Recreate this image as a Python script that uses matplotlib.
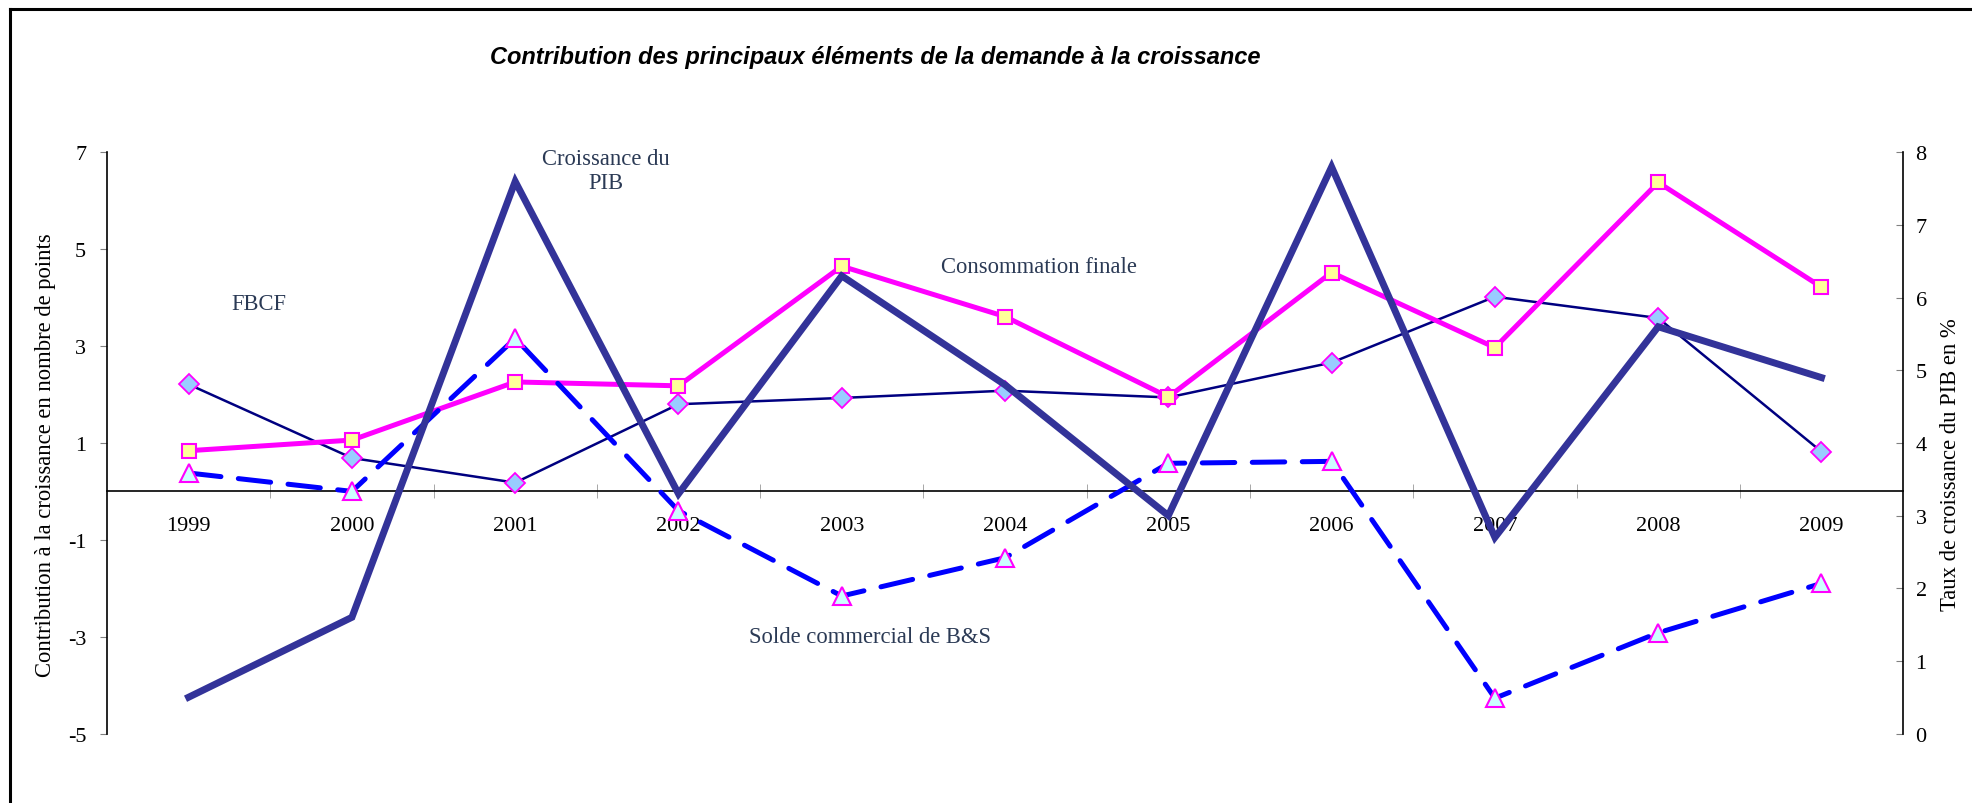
import matplotlib
matplotlib.use('Agg')
import matplotlib.pyplot as plt
from matplotlib.lines import Line2D

# data
years = ['1999', '2000', '2001', '2002', '2003', '2004', '2005', '2006', '2007', '2008', '2009']
consommation = [0.84, 1.06, 2.26, 2.18, 4.65, 3.61, 1.95, 4.52, 2.97, 6.38, 4.22]
fbcf = [2.21, 0.69, 0.18, 1.80, 1.93, 2.08, 1.94, 2.66, 4.02, 3.58, 0.82]
solde = [0.38, 0.0, 3.16, -0.40, -2.16, -1.37, 0.58, 0.62, -4.27, -2.92, -1.90]
pib = [0.5, 1.6, 7.6, 3.3, 6.3, 4.8, 3.0, 7.8, 2.7, 5.6, 4.9]

left_ticks = [-5, -3, -1, 1, 3, 5, 7]
right_ticks = [0, 1, 2, 3, 4, 5, 6, 7, 8]

plt.rcParams['font.family'] = ['Liberation Serif', 'DejaVu Serif']
plt.rcParams['axes.unicode_minus'] = False
fs = 16.3
tick_fs = 16
txt_color = '#2B3A55'

fig = plt.figure(figsize=(19.72, 8.04), dpi=100)
ax = fig.add_axes([0.05426, 0.0864, 0.9108, 0.7228])
x = list(range(len(years)))

# lines on the left axis
ax.plot(x, fbcf, color='#000080', lw=1.8, marker='D', ms=10.5,
        mfc='#99CCFF', mec='#FF00FF', mew=1.3, zorder=3)
ax.plot(x, consommation, color='#FF00FF', lw=3.6, marker='s', ms=10,
        mfc='#FFFF99', mec='#FF00FF', mew=1.5, zorder=3)
ax.plot(x, solde, color='#0000FF', lw=3.6, dashes=(6.5, 3.5),
        dash_capstyle='round', marker='^', ms=13.5,
        mfc='#CCFFFF', mec='#FF00FF', mew=1.5, zorder=3)

ax.set_xlim(-0.5, len(years) - 0.5)
ax.set_ylim(-5, 7)
ax.set_yticks(left_ticks)
ax.tick_params(axis='y', direction='out', length=5, color='#808080',
               labelsize=tick_fs, pad=10)

# category axis sits on the zero line
ax.spines['bottom'].set_position(('data', 0))
ax.spines['top'].set_visible(False)
ax.spines['right'].set_visible(False)
for s in ['left', 'bottom']:
    ax.spines[s].set_linewidth(1.2)
ax.set_xticks(x)
ax.set_xticklabels(years)
ax.set_xticks([i + 0.5 for i in x[:-1]], minor=True)
ax.tick_params(axis='x', which='major', length=0, labelsize=tick_fs, pad=18)
ax.tick_params(axis='x', which='minor', direction='inout', length=9.5,
               color='#999999')

ax.set_ylabel('Contribution à la croissance en nombre de points',
              fontsize=fs, va='center')
ax.yaxis.set_label_coords(-0.0345, 0.481)

# GDP growth on the right axis
ax2 = ax.twinx()
ax2.plot(x, pib, color='#333399', lw=5, solid_joinstyle='miter', zorder=4)
ax2.set_ylim(0, 8)
ax2.set_yticks(right_ticks)
ax2.tick_params(axis='y', direction='in', length=5, color='#808080',
                labelsize=tick_fs, pad=9)
for s in ['top', 'bottom', 'left']:
    ax2.spines[s].set_visible(False)
ax2.spines['right'].set_linewidth(1.2)
ax2.set_ylabel('Taux de croissance du PIB en %', fontsize=fs, va='center')
ax2.yaxis.set_label_coords(1.0262, 0.464)

# series labels
ax.text(2.555, 6.62, 'Croissance du\nPIB', ha='center', va='center',
        multialignment='center', fontsize=fs, color=txt_color)
ax.text(5.206, 4.64, 'Consommation finale', ha='center', va='center',
        fontsize=fs, color=txt_color)
ax.text(0.433, 3.87, 'FBCF', ha='center', va='center',
        fontsize=fs, color=txt_color)
ax.text(4.175, -2.99, 'Solde commercial de B&S', ha='center', va='center',
        fontsize=fs, color=txt_color)

fig.text(0.444, 0.929,
         'Contribution des principaux éléments de la demande à la croissance',
         ha='center', va='center', fontsize=17, fontweight='bold',
         fontstyle='italic', family=['Liberation Sans', 'DejaVu Sans'],
         color='black')

# frame on the left and top of the figure
fig.add_artist(Line2D([10 / 1972, 10 / 1972], [0, 1 - 10 / 804],
                      transform=fig.transFigure, color='black', lw=2.2))
fig.add_artist(Line2D([10 / 1972, 1], [1 - 10 / 804, 1 - 10 / 804],
                      transform=fig.transFigure, color='black', lw=2.2))

fig.savefig('out.png', dpi=100)
